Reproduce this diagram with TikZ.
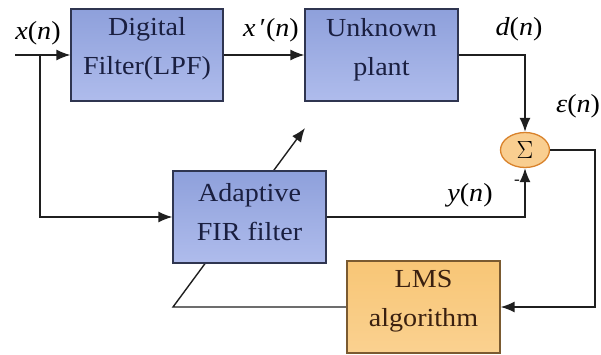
\documentclass[tikz,border=0pt]{standalone}
\usepackage{fontspec}
\setmainfont{Liberation Serif}[FakeStretch=1.08]
\usetikzlibrary{arrows.meta,shapes.geometric}
\definecolor{boxedge}{HTML}{2F3550}
\definecolor{bluetop}{HTML}{8EA0DB}
\definecolor{bluebot}{HTML}{AFBCEC}
\definecolor{orgtop}{HTML}{F8C676}
\definecolor{orgbot}{HTML}{FAD190}
\definecolor{orgedge}{HTML}{7A5A30}
\definecolor{sumfill}{HTML}{F9CE90}
\definecolor{sumedge}{HTML}{D9822B}
\definecolor{bluetext}{HTML}{1A1F40}
\definecolor{browntext}{HTML}{3A2010}
\pgfdeclarelayer{bg}
\pgfsetlayers{bg,main}
\tikzset{
  bluebox/.style={draw=boxedge,line width=1.3pt,top color=bluetop,bottom color=bluebot,minimum width=152pt,minimum height=92pt,inner sep=0pt},
  lmsbox/.style={draw=orgedge,line width=1.3pt,top color=orgtop,bottom color=orgbot,minimum width=153pt,minimum height=92pt,inner sep=0pt},
  boxtext/.style={align=center,inner sep=0pt,font=\fontsize{26}{39}\selectfont},
  lbl/.style={inner sep=0pt,font=\fontsize{26}{30}\selectfont},
  conn/.style={line width=1.4pt,draw=black!88},
  arr/.style={conn,-{Latex[length=14pt,width=11pt]}},
  sumnode/.style={ellipse,draw=sumedge,line width=1.3pt,fill=sumfill,minimum width=49pt,minimum height=35pt,inner sep=0pt}
}
\begin{document}
\begin{tikzpicture}[x=1pt,y=-1pt]
\useasboundingbox (0,0) rectangle (601,354);
% boxes
\node[bluebox] (df) at (147,55) {};
\node[bluebox,minimum width=153pt] (up) at (381.5,55) {};
\node[bluebox,minimum width=153pt] (af) at (249.5,217) {};
\node[lmsbox] (lms) at (423.5,307) {};
\node[sumnode] (sum) at (525,150) {};
% box texts
\node[boxtext,text=bluetext] (dft) at (147,49) {Digital\\Filter(LPF)};
\node[boxtext,text=bluetext] (upt) at (381.5,50) {Unknown\\plant};
\node[boxtext,text=bluetext] (aft) at (249.5,212) {Adaptive\\FIR filter};
\node[boxtext,text=browntext] (lmst) at (423.5,301) {LMS\\algorithm};
\node[inner sep=0pt,font=\fontsize{30}{32}\selectfont] (sig) at (525,150) {$\Sigma$};
% coordinates
\coordinate (in) at (15,55);
\coordinate (br) at (40,55);
\coordinate (rt) at (595,150);
\coordinate (c1) at (173,307);
\coordinate (tip) at (305,128);
% connectors
\draw[arr] (in) -- (df.west);
\draw[arr] (br) |- (af.west);
\draw[arr] (df.east) -- (up.west);
\draw[arr] (up.east) -| (sum.north);
\draw[arr] (af.east) -| (sum.south);
\draw[arr] (sum.east) -- (rt) |- (lms.east);
\begin{pgfonlayer}{bg}
\draw[arr] (lms.west) -- (c1) -- (tip);
\end{pgfonlayer}
% labels
\node[lbl] (lx) at (38,33) {\textit{x}(\textit{n})};
\node[lbl] (lxp) at (271,30) {\textit{x}\,′(\textit{n})};
\node[lbl] (ld) at (519,29) {\textit{d}(\textit{n})};
\node[lbl,anchor=west] (le) at (556,106) {\textit{ε}(\textit{n})};
\node[lbl] (ly) at (470,195) {\textit{y}(\textit{n})};
\node[inner sep=0pt,font=\fontsize{16}{18}\selectfont] (lm) at (517,182) {-};
\end{tikzpicture}
\end{document}
